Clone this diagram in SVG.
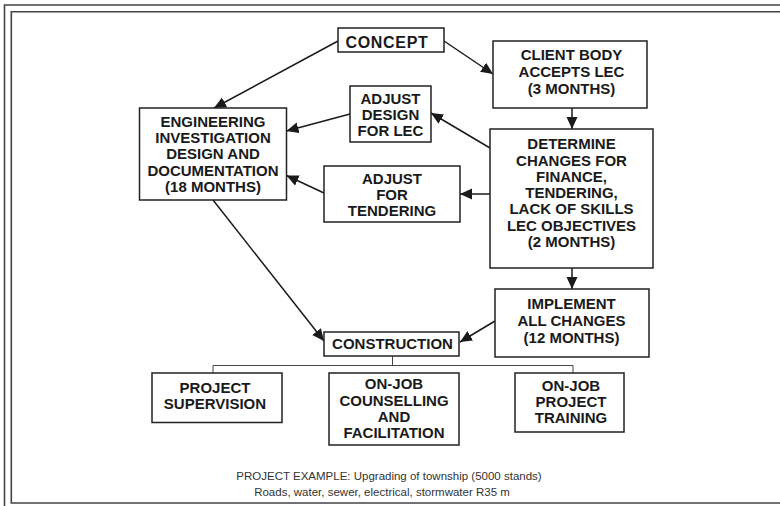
<svg xmlns="http://www.w3.org/2000/svg" width="780" height="506" viewBox="0 0 780 506">
<style>
.box{fill:#fff;stroke:#222;stroke-width:1.5}
.t{font-family:"Liberation Sans",Arial,sans-serif;font-weight:bold;font-size:15px;fill:#1a1a1a;text-anchor:middle}
.c{fill:none;stroke:#1a1a1a;stroke-width:1.5}
.bus{fill:none;stroke:#444;stroke-width:1}
.frame{fill:none;stroke:#444;stroke-width:1.6}
.foot{font-family:"Liberation Sans",Arial,sans-serif;font-size:11.5px;fill:#333;text-anchor:middle}
</style>
<defs>
<marker id="ah" markerUnits="userSpaceOnUse" markerWidth="13" markerHeight="12" refX="12" refY="5.5" orient="auto">
<path d="M0,0 L12,5.5 L0,11 z" fill="#1a1a1a"/>
</marker>
</defs>
<rect width="780" height="506" fill="#fff"/>
<g id="frame">
<path class="frame" d="M780,5 H4.5 V506"/>
<path class="frame" d="M780,11.7 H11.3 V503 H780"/>
</g>
<g id="connectors">
<path class="c" d="M338,41 L214,108" marker-end="url(#ah)"/>
<path class="c" d="M444,41 L493,74" marker-end="url(#ah)"/>
<path class="c" d="M572,108 L572,129" marker-end="url(#ah)"/>
<path class="c" d="M490,148 L431,113" marker-end="url(#ah)"/>
<path class="c" d="M350,114 L286.5,131" marker-end="url(#ah)"/>
<path class="c" d="M490,194 L460,194" marker-end="url(#ah)"/>
<path class="c" d="M324,193 L286.5,175.5" marker-end="url(#ah)"/>
<path class="c" d="M213,200 L324,341" marker-end="url(#ah)"/>
<path class="c" d="M572,268 L572,289" marker-end="url(#ah)"/>
<path class="c" d="M495,321 L460,342" marker-end="url(#ah)"/>
<path class="bus" d="M392.5,356 V365.5 M213,373 V365.5 H573 V373"/>
</g>
<g id="concept">
<rect class="box" x="338" y="28" width="106" height="24"/>
<text class="t" x="387" y="47.5" style="font-size:16px;letter-spacing:0.7px">CONCEPT</text>
</g>
<g id="client">
<rect class="box" x="493" y="41" width="154" height="67"/>
<text class="t" x="571.5" y="60.3">CLIENT BODY</text>
<text class="t" x="571.5" y="77">ACCEPTS LEC</text>
<text class="t" x="571.5" y="93.7">(3 MONTHS)</text>
</g>
<g id="adjust-design">
<rect class="box" x="350" y="86" width="81" height="56"/>
<text class="t" x="390.5" y="103.7">ADJUST</text>
<text class="t" x="390.5" y="119.7">DESIGN</text>
<text class="t" x="390.5" y="135.5">FOR LEC</text>
</g>
<g id="engineering">
<rect class="box" x="139.5" y="108" width="147" height="92"/>
<text class="t" x="213" y="127">ENGINEERING</text>
<text class="t" x="213" y="143.2">INVESTIGATION</text>
<text class="t" x="213" y="159.4">DESIGN AND</text>
<text class="t" x="213" y="175.7">DOCUMENTATION</text>
<text class="t" x="213" y="192">(18 MONTHS)</text>
</g>
<g id="determine">
<rect class="box" x="490" y="129" width="163" height="139"/>
<text class="t" x="571.5" y="149.3">DETERMINE</text>
<text class="t" x="571.5" y="165.5">CHANGES FOR</text>
<text class="t" x="571.5" y="181.7">FINANCE,</text>
<text class="t" x="571.5" y="198">TENDERING,</text>
<text class="t" x="571.5" y="214.3">LACK OF SKILLS</text>
<text class="t" x="571.5" y="230.5">LEC OBJECTIVES</text>
<text class="t" x="571.5" y="246.7">(2 MONTHS)</text>
</g>
<g id="adjust-tendering">
<rect class="box" x="324" y="166" width="136" height="56"/>
<text class="t" x="392" y="183.7">ADJUST</text>
<text class="t" x="392" y="200">FOR</text>
<text class="t" x="392" y="216.2">TENDERING</text>
</g>
<g id="implement">
<rect class="box" x="495" y="289" width="154" height="68"/>
<text class="t" x="571.5" y="308.7">IMPLEMENT</text>
<text class="t" x="571.5" y="325.7">ALL CHANGES</text>
<text class="t" x="571.5" y="342.5">(12 MONTHS)</text>
</g>
<g id="construction">
<rect class="box" x="324" y="332" width="135" height="24"/>
<text class="t" x="392.5" y="348.7">CONSTRUCTION</text>
</g>
<g id="supervision">
<rect class="box" x="152" y="373" width="130" height="49.5"/>
<text class="t" x="215" y="393">PROJECT</text>
<text class="t" x="215" y="408.8">SUPERVISION</text>
</g>
<g id="counselling">
<rect class="box" x="329" y="373" width="130" height="72"/>
<text class="t" x="394" y="389.3">ON-JOB</text>
<text class="t" x="394" y="405.8">COUNSELLING</text>
<text class="t" x="394" y="422">AND</text>
<text class="t" x="394" y="437.8">FACILITATION</text>
</g>
<g id="training">
<rect class="box" x="515" y="373" width="109" height="59"/>
<text class="t" x="571" y="391.3">ON-JOB</text>
<text class="t" x="571" y="407.2">PROJECT</text>
<text class="t" x="571" y="423.4">TRAINING</text>
</g>
<g id="footer">
<text class="foot" x="389" y="479.5">PROJECT EXAMPLE: Upgrading of township (5000 stands)</text>
<text class="foot" x="382" y="496">Roads, water, sewer, electrical, stormwater R35 m</text>
</g>
</svg>
